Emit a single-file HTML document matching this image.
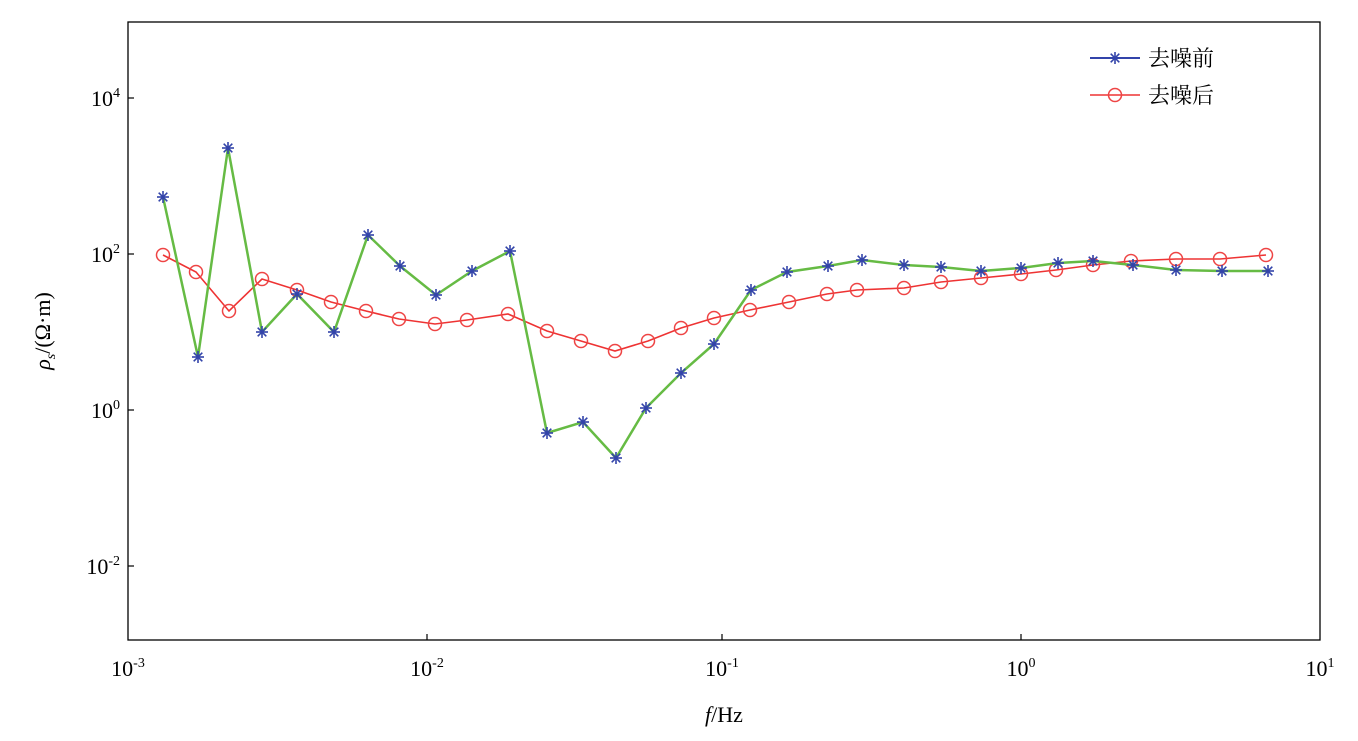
<!DOCTYPE html>
<html><head><meta charset="utf-8"><style>body{margin:0;background:#fff}</style></head><body>
<svg width="1358" height="736" xmlns="http://www.w3.org/2000/svg" font-family="Liberation Serif, 'Noto Serif CJK SC', serif">
<defs><g id="st" stroke="#3344aa" stroke-width="1.6"><line x1="-6" y1="0" x2="6" y2="0"/><line x1="0" y1="-6" x2="0" y2="6"/><line x1="-4.3" y1="-4.3" x2="4.3" y2="4.3"/><line x1="-4.3" y1="4.3" x2="4.3" y2="-4.3"/></g></defs>
<rect x="128" y="22" width="1192" height="618" fill="none" stroke="#000" stroke-width="1.3"/>
<g stroke="#000" stroke-width="1.2">
<line x1="427" y1="640" x2="427" y2="634"/><line x1="722" y1="640" x2="722" y2="634"/><line x1="1021" y1="640" x2="1021" y2="634"/>
<line x1="128" y1="98" x2="134" y2="98"/><line x1="128" y1="254" x2="134" y2="254"/><line x1="128" y1="410" x2="134" y2="410"/><line x1="128" y1="566" x2="134" y2="566"/>
</g>
<g font-size="22" fill="#000">
<text x="120" y="106" text-anchor="end">10<tspan font-size="14" dy="-9">4</tspan></text>
<text x="120" y="262" text-anchor="end">10<tspan font-size="14" dy="-9">2</tspan></text>
<text x="120" y="418" text-anchor="end">10<tspan font-size="14" dy="-9">0</tspan></text>
<text x="120" y="574" text-anchor="end">10<tspan font-size="14" dy="-9">-2</tspan></text>
<text x="128" y="676" text-anchor="middle">10<tspan font-size="14" dy="-9">-3</tspan></text>
<text x="427" y="676" text-anchor="middle">10<tspan font-size="14" dy="-9">-2</tspan></text>
<text x="722" y="676" text-anchor="middle">10<tspan font-size="14" dy="-9">-1</tspan></text>
<text x="1021" y="676" text-anchor="middle">10<tspan font-size="14" dy="-9">0</tspan></text>
<text x="1320" y="676" text-anchor="middle">10<tspan font-size="14" dy="-9">1</tspan></text>
<text x="724" y="722" text-anchor="middle"><tspan font-style="italic">f</tspan>/Hz</text>
<text transform="translate(50,331) rotate(-90)" text-anchor="middle"><tspan font-style="italic">ρ</tspan><tspan font-style="italic" font-size="14" dy="5">s</tspan><tspan dy="-5">/(Ω·m)</tspan></text>
</g>
<polyline fill="none" stroke="#ee3333" stroke-width="1.6" points="163,255 196,272 229,311 262,279 297,290 331,302 366,311 399,319 435,324 467,320 508,314 547,331 581,341 615,351 648,341 681,328 714,318 750,310 789,302 827,294 857,290 904,288 941,282 981,278 1021,274 1056,270 1093,265 1131,261 1176,259 1220,259 1266,255"/>
<g fill="none" stroke="#ee4444" stroke-width="1.5">
<circle cx="163" cy="255" r="6.5"/><circle cx="196" cy="272" r="6.5"/><circle cx="229" cy="311" r="6.5"/><circle cx="262" cy="279" r="6.5"/><circle cx="297" cy="290" r="6.5"/><circle cx="331" cy="302" r="6.5"/><circle cx="366" cy="311" r="6.5"/><circle cx="399" cy="319" r="6.5"/><circle cx="435" cy="324" r="6.5"/><circle cx="467" cy="320" r="6.5"/><circle cx="508" cy="314" r="6.5"/><circle cx="547" cy="331" r="6.5"/><circle cx="581" cy="341" r="6.5"/><circle cx="615" cy="351" r="6.5"/><circle cx="648" cy="341" r="6.5"/><circle cx="681" cy="328" r="6.5"/><circle cx="714" cy="318" r="6.5"/><circle cx="750" cy="310" r="6.5"/><circle cx="789" cy="302" r="6.5"/><circle cx="827" cy="294" r="6.5"/><circle cx="857" cy="290" r="6.5"/><circle cx="904" cy="288" r="6.5"/><circle cx="941" cy="282" r="6.5"/><circle cx="981" cy="278" r="6.5"/><circle cx="1021" cy="274" r="6.5"/><circle cx="1056" cy="270" r="6.5"/><circle cx="1093" cy="265" r="6.5"/><circle cx="1131" cy="261" r="6.5"/><circle cx="1176" cy="259" r="6.5"/><circle cx="1220" cy="259" r="6.5"/><circle cx="1266" cy="255" r="6.5"/>
</g>
<polyline fill="none" stroke="#66bb44" stroke-width="2.5" points="163,197 198,357 228,148 262,332 297,294 334,332 368,235 400,266 436,295 472,271 510,251 547,433 583,422 616,458 646,408 681,373 714,344 751,290 787,272 828,266 862,260 904,265 941,267 981,271 1021,268 1058,263 1093,261 1133,265 1176,270 1222,271 1268,271"/>
<use href="#st" x="163" y="197"/><use href="#st" x="198" y="357"/><use href="#st" x="228" y="148"/><use href="#st" x="262" y="332"/><use href="#st" x="297" y="294"/><use href="#st" x="334" y="332"/><use href="#st" x="368" y="235"/><use href="#st" x="400" y="266"/><use href="#st" x="436" y="295"/><use href="#st" x="472" y="271"/><use href="#st" x="510" y="251"/><use href="#st" x="547" y="433"/><use href="#st" x="583" y="422"/><use href="#st" x="616" y="458"/><use href="#st" x="646" y="408"/><use href="#st" x="681" y="373"/><use href="#st" x="714" y="344"/><use href="#st" x="751" y="290"/><use href="#st" x="787" y="272"/><use href="#st" x="828" y="266"/><use href="#st" x="862" y="260"/><use href="#st" x="904" y="265"/><use href="#st" x="941" y="267"/><use href="#st" x="981" y="271"/><use href="#st" x="1021" y="268"/><use href="#st" x="1058" y="263"/><use href="#st" x="1093" y="261"/><use href="#st" x="1133" y="265"/><use href="#st" x="1176" y="270"/><use href="#st" x="1222" y="271"/><use href="#st" x="1268" y="271"/>
<line x1="1090" y1="58" x2="1140" y2="58" stroke="#3344aa" stroke-width="2"/>
<use href="#st" x="1115" y="58"/>
<line x1="1090" y1="95" x2="1140" y2="95" stroke="#ee3333" stroke-width="1.6"/>
<circle cx="1115" cy="95" r="6.5" fill="none" stroke="#ee4444" stroke-width="1.5"/>
<g font-size="22" fill="#000" font-family="'Noto Serif CJK SC', serif">
<text x="1148" y="66">去噪前</text><text x="1148" y="103">去噪后</text>
</g>
</svg>
</body></html>
